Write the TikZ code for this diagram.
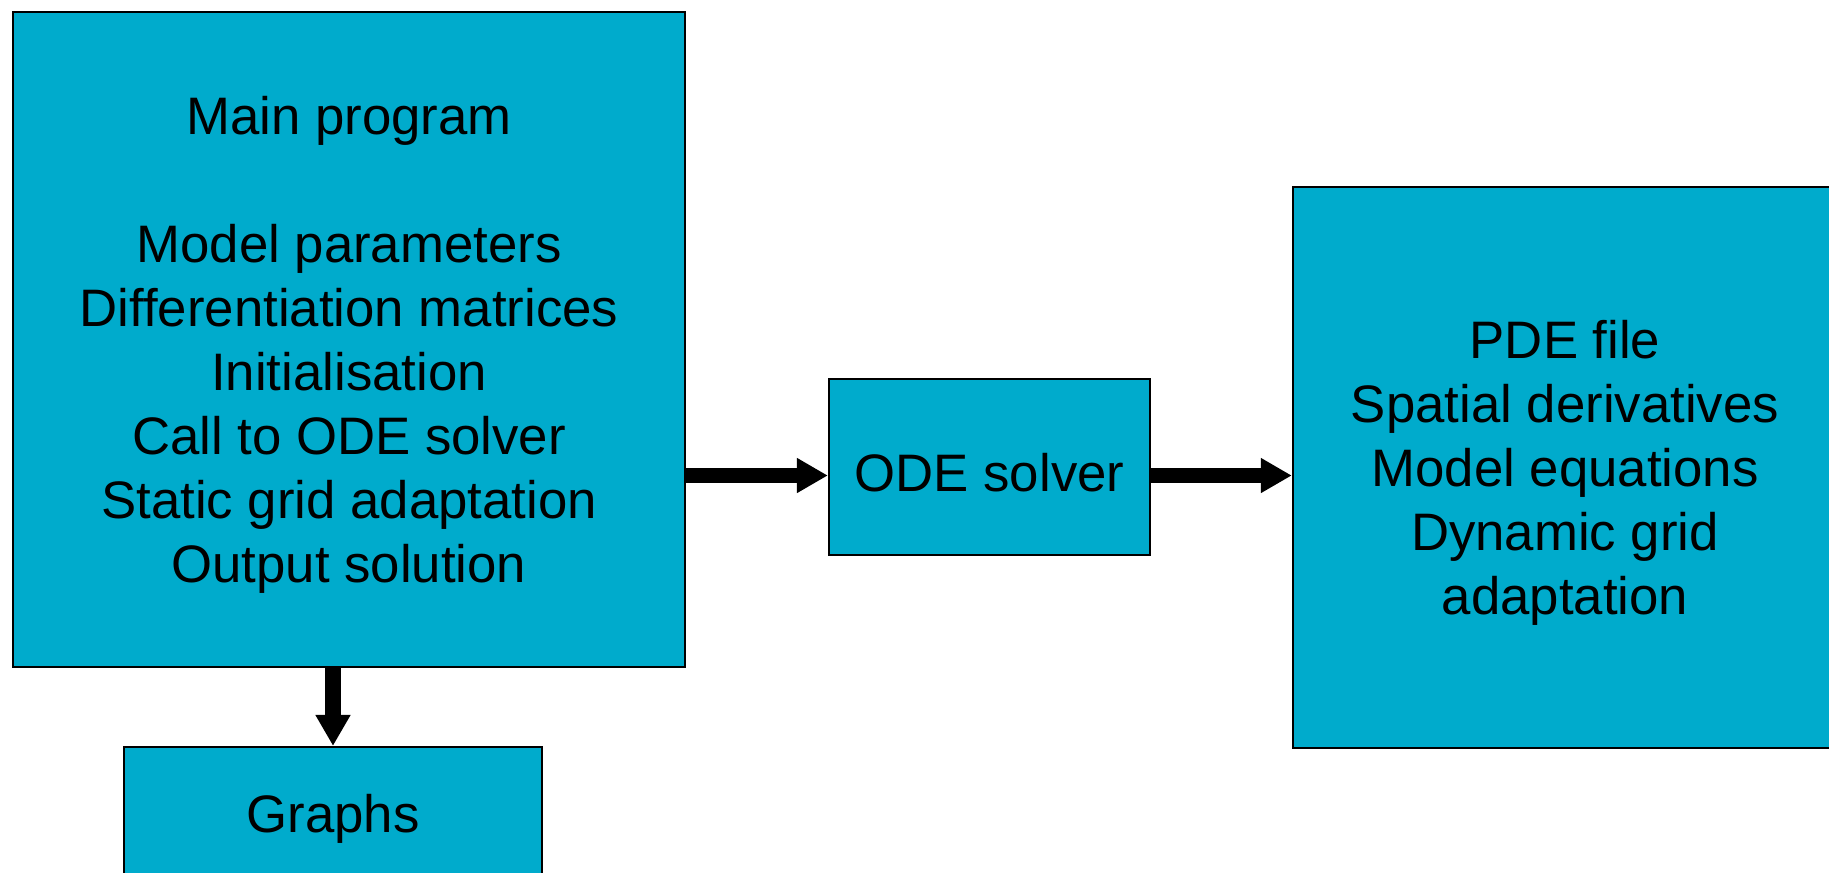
\documentclass[tikz,border=0pt]{standalone}
\usepackage{fontspec}
\setmainfont{Liberation Sans}
\usetikzlibrary{arrows.meta}

\definecolor{boxblue}{RGB}{0,171,204}
\newcommand{\topgap}{\rule{0pt}{14pt}}

\tikzset{
  block/.style={draw=black, line width=0.6pt, fill=boxblue, align=center,
                inner sep=0pt, font=\fontsize{15}{18.2}\selectfont},
  flow/.style={line width=0.15cm, -{Triangle[length=0.31cm,width=0.33cm]}}
}

\begin{document}
\begin{tikzpicture}[x=0.01cm, y=-0.01cm]
                \useasboundingbox (0, 0) rectangle (1829, 872);
                \clip (0, 0) rectangle (1829, 872);
                % Boxes
                \node [block, minimum width=6.72cm, minimum height=6.55cm] (main) at (349, 339.5)
                      {\topgap Main program\\ \\Model parameters\\Differentiation matrices\\Initialisation\\Call to ODE solver\\Static grid adaptation\\Output solution};
                \node [block, minimum width=3.21cm, minimum height=1.76cm] (ode) at (989.5, 467) {\topgap ODE solver};
                \node [block, minimum width=5.44cm, minimum height=5.61cm] (pde) at (1565, 467.5)
                      {\topgap PDE file\\Spatial derivatives\\Model equations\\Dynamic grid\\adaptation};
                \node [block, minimum width=4.18cm, minimum height=1.32cm] (graphs) at (333, 813) {\topgap Graphs};
                % Arrows
                \coordinate (odein) at ([yshift=-0.085cm]ode.west);
                \coordinate (pdein) at ([yshift=-0.08cm]pde.west);
                \draw [flow] (main.east |- odein) -- (odein);
                \draw [flow] (ode.east |- pdein) -- (pdein);
                \draw [flow] (graphs.north |- main.south) -- (graphs.north);
            \end{tikzpicture}
\end{document}
